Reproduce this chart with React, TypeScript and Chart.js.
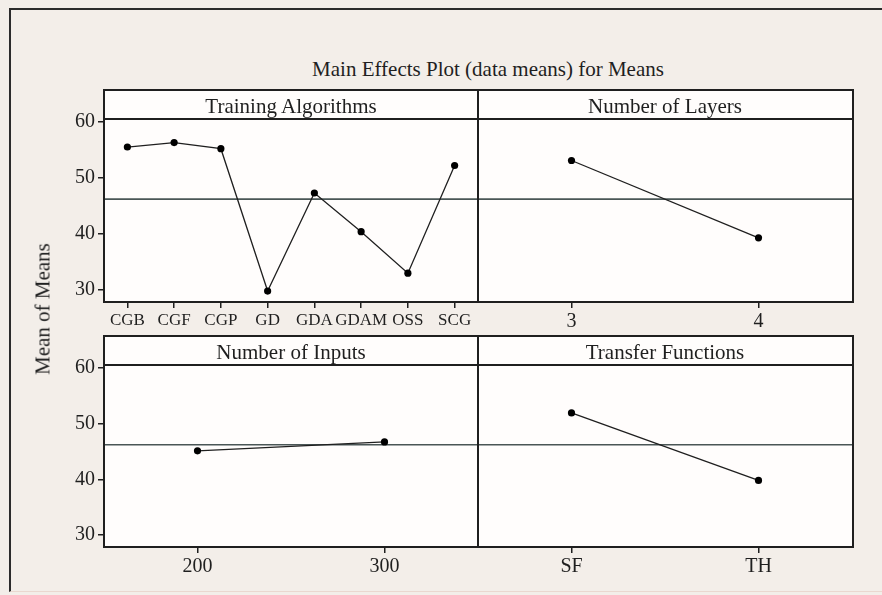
import React, { useEffect, useRef } from "react";
import { Chart, registerables } from "chart.js";

Chart.register(...registerables);

// Factor levels and the mean response at each level
const algorithmLabels = ["CGB", "CGF", "CGP", "GD", "GDA", "GDAM", "OSS", "SCG"];
const algorithmMeans = [55.5, 56.3, 55.2, 29.8, 47.3, 40.4, 33.0, 52.2];

const layerLabels = ["3", "4"];
const layerMeans = [53.1, 39.3];

const inputLabels = ["200", "300"];
const inputMeans = [45.1, 46.7];

const transferLabels = ["SF", "TH"];
const transferMeans = [51.9, 39.8];

// Overall mean of all observations (reference line)
const grandMean = 46.2;

// Shared value axis
const yTicks = [30, 40, 50, 60];
const yMin = 27.85;
const yMax = 60.5;

const FONT = "'Liberation Serif', 'Times New Roman', serif";
const INK = "#1f1f1f";
const REF = "#4a5656";
const Y_AXIS_W = 60;
const X_AXIS_H = 40;
const PAD_T = 20;

type PanelProps = {
  labels: string[];
  values: number[];
  left: number;
  top: number;
  width: number;
  height: number;
  showY: boolean;
  xFontSize: number;
};

function EffectPanel({ labels, values, left, top, width, height, showY, xFontSize }: PanelProps) {
  const ref = useRef<HTMLCanvasElement | null>(null);
  const yW = showY ? Y_AXIS_W : 0;
  const cw = yW + width;
  const ch = PAD_T + height + X_AXIS_H;

  useEffect(() => {
    if (!ref.current) return;
    const n = labels.length;
    const chart = new Chart(ref.current, {
      type: "scatter",
      data: {
        datasets: [
          {
            data: [
              { x: -0.5, y: grandMean },
              { x: n - 0.5, y: grandMean },
            ],
            showLine: true,
            borderColor: REF,
            borderWidth: 1.6,
            pointRadius: 0,
            order: 2,
          },
          {
            data: values.map((v, i) => ({ x: i, y: v })),
            showLine: true,
            borderColor: INK,
            borderWidth: 1.3,
            pointRadius: 3.6,
            pointBackgroundColor: "#000",
            pointBorderColor: "#000",
            pointBorderWidth: 0,
            order: 1,
          },
        ],
      },
      options: {
        responsive: false,
        animation: false,
        events: [],
        layout: { autoPadding: false, padding: { top: PAD_T, left: 0, right: 0, bottom: 0 } },
        plugins: {
          legend: { display: false },
          tooltip: { enabled: false },
          title: { display: false },
        },
        scales: {
          x: {
            type: "linear",
            min: -0.5,
            max: n - 0.5,
            afterBuildTicks: (axis: any) => {
              axis.ticks = labels.map((_, i) => ({ value: i }));
            },
            afterFit: (s: any) => {
              s.height = X_AXIS_H;
              s.paddingLeft = 0;
              s.paddingRight = 0;
            },
            ticks: {
              callback: (v: any) => labels[Math.round(Number(v))] ?? "",
              color: INK,
              font: { family: FONT, size: xFontSize },
              padding: 2,
              maxRotation: 0,
              minRotation: 0,
              autoSkip: false,
            },
            grid: {
              drawOnChartArea: false,
              drawTicks: true,
              tickLength: 6,
              color: INK,
              lineWidth: 1.5,
            },
            border: { display: false },
          },
          y: {
            display: showY,
            min: yMin,
            max: yMax,
            afterBuildTicks: (axis: any) => {
              axis.ticks = yTicks.map((v) => ({ value: v }));
            },
            afterFit: (s: any) => {
              s.width = showY ? Y_AXIS_W : 0;
              s.paddingTop = 0;
              s.paddingBottom = 0;
            },
            ticks: {
              color: INK,
              font: { family: FONT, size: 20 },
              padding: 3,
            },
            grid: {
              drawOnChartArea: false,
              drawTicks: true,
              tickLength: 6,
              color: INK,
              lineWidth: 1.5,
            },
            border: { display: false },
          },
        },
      },
    } as any);
    return () => chart.destroy();
  }, [labels, values, showY, xFontSize]);

  return (
    <canvas
      ref={ref}
      width={cw}
      height={ch}
      style={{
        position: "absolute",
        left: left - yW,
        top: top - PAD_T,
        width: cw,
        height: ch,
        zIndex: 1,
      }}
    />
  );
}

const line = (left: number, top: number, width: number, height: number) => (
  <div
    style={{
      position: "absolute",
      left,
      top,
      width,
      height,
      background: INK,
      zIndex: 2,
    }}
  />
);

function Header({ text, left, top, width }: { text: string; left: number; top: number; width: number }) {
  return (
    <div
      style={{
        position: "absolute",
        left,
        top: top + 2,
        width,
        height: 29,
        lineHeight: "29px",
        textAlign: "center",
        fontFamily: FONT,
        fontSize: 21,
        color: INK,
        whiteSpace: "nowrap",
        zIndex: 3,
      }}
    >
      {text}
    </div>
  );
}

export default function App() {
  return (
    <div
      style={{
        position: "absolute",
        left: 0,
        top: 0,
        width: 882,
        height: 595,
        overflow: "hidden",
        background: "#f3eee9",
        fontFamily: FONT,
      }}
    >
      {/* outer frame */}
      <div
        style={{
          position: "absolute",
          left: 9,
          top: 8,
          width: 900,
          height: 584,
          boxSizing: "border-box",
          borderTop: "2px solid #2b2b2b",
          borderLeft: "2px solid #2b2b2b",
          borderBottom: "1px solid #ead8d0",
        }}
      />

      {/* panel backgrounds */}
      <div style={{ position: "absolute", left: 104, top: 90, width: 748, height: 212, background: "#fffdfc" }} />
      <div style={{ position: "absolute", left: 104, top: 336, width: 748, height: 211, background: "#fffdfc" }} />

      {/* title */}
      <div
        style={{
          position: "absolute",
          left: 288,
          top: 59,
          width: 400,
          lineHeight: "21px",
          textAlign: "center",
          fontSize: 21,
          color: INK,
          whiteSpace: "nowrap",
          zIndex: 3,
        }}
      >
        Main Effects Plot (data means) for Means
      </div>

      {/* value axis title */}
      <div
        style={{
          position: "absolute",
          left: 43,
          top: 309,
          lineHeight: "21px",
          fontSize: 21,
          color: INK,
          whiteSpace: "nowrap",
          transform: "translate(-50%, -50%) rotate(-90deg)",
          zIndex: 3,
        }}
      >
        Mean of Means
      </div>

      <EffectPanel labels={algorithmLabels} values={algorithmMeans} left={104} top={119} width={374} height={183} showY xFontSize={17} />
      <EffectPanel labels={layerLabels} values={layerMeans} left={478} top={119} width={374} height={183} showY={false} xFontSize={20} />
      <EffectPanel labels={inputLabels} values={inputMeans} left={104} top={365} width={374} height={182} showY xFontSize={20} />
      <EffectPanel labels={transferLabels} values={transferMeans} left={478} top={365} width={374} height={182} showY={false} xFontSize={20} />

      {/* panel frames, top row */}
      {line(103, 89, 751, 2)}
      {line(103, 301, 751, 2)}
      {line(103, 89, 2, 214)}
      {line(852, 89, 2, 214)}
      {line(477, 89, 2, 214)}
      {line(103, 118, 751, 2)}

      {/* panel frames, bottom row */}
      {line(103, 335, 751, 2)}
      {line(103, 546, 751, 2)}
      {line(103, 335, 2, 213)}
      {line(852, 335, 2, 213)}
      {line(477, 335, 2, 213)}
      {line(103, 364, 751, 2)}

      <Header text="Training Algorithms" left={104} top={90} width={374} />
      <Header text="Number of Layers" left={478} top={90} width={374} />
      <Header text="Number of Inputs" left={104} top={336} width={374} />
      <Header text="Transfer Functions" left={478} top={336} width={374} />
    </div>
  );
}
